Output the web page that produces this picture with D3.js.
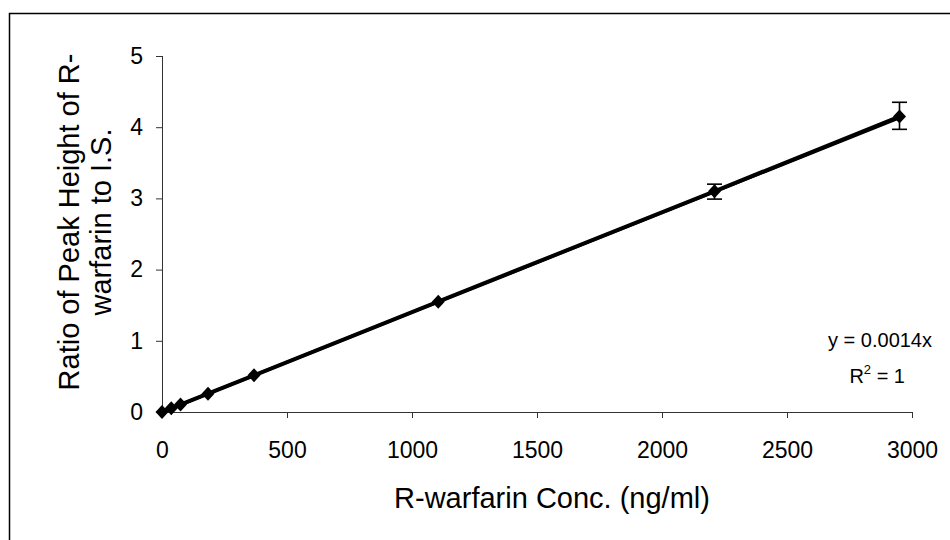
<!DOCTYPE html>
<html>
<head>
<meta charset="utf-8">
<script src="https://cdn.jsdelivr.net/npm/d3@7"></script>
<style>
  html, body { margin: 0; padding: 0; background: #fff; }
  svg { display: block; }
  text { font-family: "Liberation Sans", Arial, sans-serif; fill: #000; }
</style>
</head>
<body>
<svg id="chart" width="950" height="540"></svg>
<script>
// Calibration data: R-warfarin concentration vs. peak-height ratio
const concentrations = [0, 37, 74, 184, 368, 1105, 2210, 2950];
const ratios = [0, 0.052, 0.104, 0.258, 0.515, 1.55, 3.10, 4.15];
const errorLow = [0, 0, 0, 0, 0, 0, 2.99, 3.97];
const errorHigh = [0, 0, 0, 0, 0, 0, 3.20, 4.35];
const slope = 0.0014;
const xTicks = [0, 500, 1000, 1500, 2000, 2500, 3000];
const yTicks = [0, 1, 2, 3, 4, 5];

const svg = d3.select("#chart");
const FONT = "Liberation Sans, Arial, sans-serif";

// outer chart frame (runs past the page edge on right/bottom)
svg.append("rect")
  .attr("x", 9.5).attr("y", 13.5)
  .attr("width", 1000).attr("height", 600)
  .attr("fill", "none").attr("stroke", "#000").attr("stroke-width", 1.5);

const x = d3.scaleLinear().domain([0, 3000]).range([162, 912]);
const y = d3.scaleLinear().domain([0, 5]).range([412, 56]);

// y axis
const yAxis = svg.append("g")
  .attr("transform", "translate(162,0)")
  .call(d3.axisLeft(y).tickValues(yTicks).tickFormat(d3.format("d")).tickSize(6).tickPadding(13));
yAxis.select(".domain").attr("stroke", "#333").attr("d", `M0.5,${y(5)}V${y(0)}`);
yAxis.selectAll(".tick line").attr("stroke", "#333");
yAxis.selectAll("text").style("font-size", "23px").style("font-family", FONT);

// x axis
const xAxis = svg.append("g")
  .attr("transform", "translate(0,412)")
  .call(d3.axisBottom(x).tickValues(xTicks).tickFormat(d3.format("d")).tickSize(6).tickPadding(24));
xAxis.select(".domain").attr("stroke", "#333").attr("d", `M${x(0)},0.5H${x(3000)}`);
xAxis.selectAll(".tick line").attr("stroke", "#333");
xAxis.selectAll("text").style("font-size", "23px").style("font-family", FONT);

// linear trendline y = slope * x
const trend = [0, d3.max(concentrations)];
svg.append("line")
  .attr("x1", x(trend[0])).attr("y1", y(slope * trend[0]))
  .attr("x2", x(trend[1])).attr("y2", y(slope * trend[1]))
  .attr("stroke", "#000").attr("stroke-width", 3);

// data series line
const pts = concentrations.map((c, i) => ({c, r: ratios[i], lo: errorLow[i], hi: errorHigh[i]}));
svg.append("path")
  .datum(pts)
  .attr("fill", "none").attr("stroke", "#000").attr("stroke-width", 4)
  .attr("stroke-linejoin", "round")
  .attr("d", d3.line().x(d => x(d.c)).y(d => y(d.r)));

// error bars
const eb = svg.append("g").attr("stroke", "#000").attr("stroke-width", 1.6);
pts.filter(d => d.hi > d.lo).forEach(d => {
  eb.append("line").attr("x1", x(d.c)).attr("x2", x(d.c)).attr("y1", y(d.lo)).attr("y2", y(d.hi));
  eb.append("line").attr("x1", x(d.c) - 7.5).attr("x2", x(d.c) + 7.5).attr("y1", y(d.lo)).attr("y2", y(d.lo));
  eb.append("line").attr("x1", x(d.c) - 7.5).attr("x2", x(d.c) + 7.5).attr("y1", y(d.hi)).attr("y2", y(d.hi));
});

// diamond markers
svg.append("g").selectAll("path")
  .data(pts).join("path")
  .attr("transform", d => `translate(${x(d.c)},${y(d.r)})`)
  .attr("d", "M0,-7L6.5,0L0,7L-6.5,0Z")
  .attr("fill", "#000");

// trendline equation
svg.append("text").attr("x", 932).attr("y", 347).attr("text-anchor", "end")
  .style("font-size", "20px").text("y = 0.0014x");
const r2 = svg.append("text").attr("x", 905).attr("y", 383).attr("text-anchor", "end")
  .style("font-size", "20px");
r2.append("tspan").text("R");
r2.append("tspan").attr("dy", -9).style("font-size", "13px").text("2");
r2.append("tspan").attr("dy", 9).text(" = 1");

// axis titles
svg.append("text").attr("x", 552).attr("y", 508).attr("text-anchor", "middle")
  .style("font-size", "29px").text("R-warfarin Conc. (ng/ml)");

const yt = svg.append("text")
  .attr("transform", "translate(79,222) rotate(-90)")
  .attr("text-anchor", "middle").style("font-size", "29px");
yt.append("tspan").attr("x", 0).attr("y", 0).text("Ratio of Peak Height of R-");
yt.append("tspan").attr("x", 0).attr("y", 32).text("warfarin to I.S.");
</script>
</body>
</html>
